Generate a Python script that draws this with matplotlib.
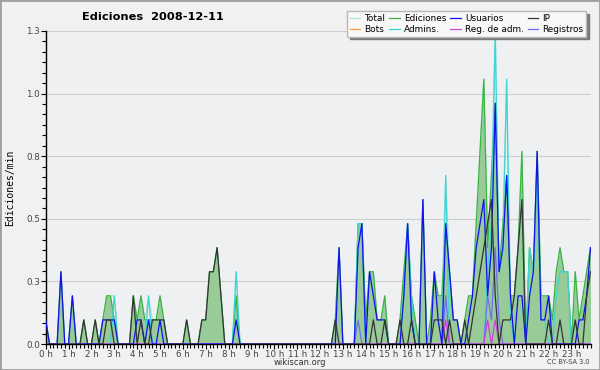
#!/usr/bin/env python3
"""Edits per minute on 2008-12-11 (wikiscan style chart)."""

import numpy as np
import matplotlib
matplotlib.use("Agg")
import matplotlib.pyplot as plt
from matplotlib.patches import Rectangle
from matplotlib.ticker import FixedLocator, MultipleLocator

# one value per 10-minute slot, in tenths of an edit per minute
EDICIONES = [
    1, 0, 0, 0, 3, 0, 0, 2, 0, 0, 1, 0, 0, 1, 0, 1, 2, 2, 1, 0, 0, 0, 0, 2,
    1, 2, 1, 1, 1, 1, 2, 1, 0, 0, 0, 0, 0, 1, 0, 0, 0, 1, 1, 3, 3, 4, 2, 0,
    0, 0, 2, 0, 0, 0, 0, 0, 0, 0, 0, 0, 0, 0, 0, 0, 0, 0, 0, 0, 0, 0, 0, 0,
    0, 0, 0, 0, 1, 4, 0, 0, 0, 0, 5, 5, 1, 3, 3, 1, 1, 2, 0, 0, 0, 1, 3, 5,
    2, 1, 0, 6, 0, 1, 3, 2, 2, 5, 3, 1, 1, 0, 1, 2, 2, 5, 8, 11, 4, 7, 10, 3,
    5, 7, 2, 2, 4, 8, 0, 4, 3, 8, 2, 2, 2, 1, 3, 4, 3, 3, 0, 3, 1, 2, 3, 4,
]
TOTAL = [
    1, 0, 0, 0, 3, 0, 0, 2, 0, 0, 1, 0, 0, 1, 0, 1, 2, 2, 2, 0, 0, 0, 0, 2,
    1, 2, 1, 2, 1, 1, 2, 1, 0, 0, 0, 0, 0, 1, 0, 0, 0, 1, 1, 3, 3, 4, 2, 0,
    0, 0, 3, 0, 0, 0, 0, 0, 0, 0, 0, 0, 0, 0, 0, 0, 0, 0, 0, 0, 0, 0, 0, 0,
    0, 0, 0, 0, 1, 4, 0, 0, 0, 0, 5, 5, 1, 3, 3, 1, 1, 2, 0, 0, 0, 1, 3, 5,
    2, 1, 0, 6, 0, 1, 3, 2, 2, 7, 3, 1, 1, 0, 1, 2, 2, 5, 8, 11, 4, 7, 13, 3,
    5, 11, 2, 2, 4, 8, 0, 4, 3, 8, 2, 2, 2, 1, 3, 4, 3, 3, 0, 3, 1, 2, 3, 4,
]
USUARIOS = [
    1, 0, 0, 0, 3, 0, 0, 2, 0, 0, 0, 0, 0, 0, 0, 1, 1, 1, 1, 0, 0, 0, 0, 0,
    1, 1, 0, 1, 0, 0, 1, 0, 0, 0, 0, 0, 0, 0, 0, 0, 0, 0, 0, 0, 0, 0, 0, 0,
    0, 0, 1, 0, 0, 0, 0, 0, 0, 0, 0, 0, 0, 0, 0, 0, 0, 0, 0, 0, 0, 0, 0, 0,
    0, 0, 0, 0, 0, 4, 0, 0, 0, 0, 4, 5, 0, 3, 2, 1, 1, 1, 0, 0, 0, 0, 2, 5,
    1, 0, 0, 6, 0, 0, 3, 1, 0, 5, 3, 1, 1, 0, 0, 1, 2, 4, 5, 6, 2, 4, 10, 3,
    4, 7, 2, 0, 2, 2, 0, 2, 3, 8, 1, 1, 2, 0, 0, 0, 0, 0, 0, 0, 1, 1, 2, 4,
]
IP = [
    0, 0, 0, 0, 0, 0, 0, 0, 0, 0, 1, 0, 0, 1, 0, 0, 1, 1, 0, 0, 0, 0, 0, 2,
    0, 1, 0, 0, 1, 1, 1, 1, 0, 0, 0, 0, 0, 1, 0, 0, 0, 1, 1, 3, 3, 4, 2, 0,
    0, 0, 0, 0, 0, 0, 0, 0, 0, 0, 0, 0, 0, 0, 0, 0, 0, 0, 0, 0, 0, 0, 0, 0,
    0, 0, 0, 0, 1, 0, 0, 0, 0, 0, 0, 0, 0, 0, 1, 0, 0, 1, 0, 0, 0, 1, 0, 0,
    1, 0, 0, 0, 0, 0, 1, 1, 1, 0, 1, 0, 0, 0, 1, 0, 1, 2, 3, 4, 5, 6, 2, 0,
    1, 1, 1, 2, 4, 6, 0, 0, 0, 0, 0, 0, 1, 0, 0, 1, 0, 0, 0, 1, 0, 0, 2, 3,
]
ADMINS = [
    0, 0, 0, 0, 0, 0, 0, 0, 0, 0, 0, 0, 0, 0, 0, 0, 0, 0, 2, 0, 0, 0, 0, 0,
    0, 0, 0, 2, 0, 0, 0, 0, 0, 0, 0, 0, 0, 0, 0, 0, 0, 0, 0, 0, 0, 0, 0, 0,
    0, 0, 3, 0, 0, 0, 0, 0, 0, 0, 0, 0, 0, 0, 0, 0, 0, 0, 0, 0, 0, 0, 0, 0,
    0, 0, 0, 0, 0, 0, 0, 0, 0, 0, 5, 5, 0, 0, 0, 0, 0, 0, 0, 0, 0, 0, 2, 5,
    2, 0, 0, 0, 0, 0, 0, 0, 0, 7, 0, 0, 0, 0, 0, 0, 0, 0, 0, 0, 3, 5, 13, 3,
    4, 11, 1, 0, 0, 0, 0, 4, 3, 7, 1, 1, 0, 0, 2, 3, 3, 3, 0, 0, 0, 0, 0, 0,
]
REGISTROS = [0] * 82 + [1] + [0] * 22 + [2] + [0] * 10 + [2, 1, 4, 1] + [0] * 24
REG_ADM = [0] * 105 + [1] + [0] * 10 + [1, 0, 1] + [0] * 25
BOTS = [0] * 144

HOURS = [f"{h} h" for h in range(24)]
Y_TICKS = [0.0, 0.26, 0.52, 0.78, 1.04, 1.3]
Y_LABELS = ["0.0", "0.3", "0.5", "0.8", "1.0", "1.3"]

W, H = 600, 370


def fx(px):
    return px / W


def fy(py):
    return 1 - py / H


def main():
    slots = np.arange(len(EDICIONES))
    tenth = lambda s: np.array(s) / 10.0

    fig = plt.figure(figsize=(6, 3.7), dpi=100, facecolor="#f1f1f1")
    ax = fig.add_axes([fx(45.7), fy(344), fx(590.5) - fx(45.7), fy(31) - fy(344)])
    ax.set_facecolor("#eef0f2")

    ax.fill_between(slots, tenth(EDICIONES), color="#98cb98", lw=0, zorder=2)
    series = [
        ("Total", TOTAL, "#a8e2e2", 2.1),
        ("Ediciones", EDICIONES, "#3cb43c", 2.2),
        ("Bots", BOTS, "#ffa030", 2.3),
        ("Admins.", ADMINS, "#3fd4d4", 2.4),
        ("Registros", REGISTROS, "#7070f0", 2.5),
        ("Reg. de adm.", REG_ADM, "#d040e0", 2.6),
        ("Usuarios", USUARIOS, "#1010f0", 2.7),
        ("IP", IP, "#333333", 2.8),
    ]
    lines = {}
    for name, vals, color, z in series:
        (ln,) = ax.plot(slots, tenth(vals), color=color, lw=0.9, zorder=z)
        lines[name] = ln

    ax.set_xlim(0, 143)
    ax.set_ylim(0, 1.3)
    ax.xaxis.set_major_locator(FixedLocator(range(0, 144, 6)))
    ax.set_xticklabels(HOURS)
    ax.xaxis.set_minor_locator(MultipleLocator(1))
    ax.yaxis.set_major_locator(FixedLocator(Y_TICKS))
    ax.set_yticklabels(Y_LABELS)
    ax.yaxis.set_minor_locator(MultipleLocator(0.26 / 6))
    ax.tick_params(which="both", direction="out", color="black", width=0.8)
    ax.tick_params(which="major", length=3.5, labelsize=6.3, labelcolor="#444444", pad=0.5)
    ax.tick_params(which="minor", length=2.8)

    ax.yaxis.grid(True, color="#cdcdcd", lw=0.8)
    ax.set_axisbelow(True)
    for side in ("top", "right"):
        ax.spines[side].set_visible(False)
    for side in ("left", "bottom"):
        ax.spines[side].set_linewidth(1.0)

    order = ["Total", "Bots", "Ediciones", "Admins.", "Usuarios",
             "Reg. de adm.", "IP", "Registros"]
    leg = ax.legend([lines[n] for n in order], order, ncol=4,
                    loc="upper left", bbox_to_anchor=(fx(347), fy(11.5)),
                    bbox_transform=fig.transFigure, fontsize=6.4,
                    frameon=True, fancybox=False, framealpha=1,
                    facecolor="#f8f8f8", edgecolor="#b8b8b8",
                    shadow={"color": "#7a7a7a", "alpha": 1},
                    borderpad=0.3, labelspacing=0.2, handlelength=1.2,
                    handletextpad=0.45, columnspacing=0.45, borderaxespad=0)
    for h in leg.get_lines():
        h.set_linewidth(0.9)
    leg.set_zorder(5)

    fig.text(fx(153), fy(17), "Ediciones  2008-12-11", ha="center", va="center",
             fontsize=8.2, fontweight="bold")
    fig.text(fx(10), fy(188), "Ediciones/min", rotation=90, ha="center", va="center",
             family="DejaVu Sans Mono", fontsize=7)
    fig.text(fx(300), fy(362.5), "wikiscan.org", ha="center", va="center",
             fontsize=6.0, color="#333333")
    fig.text(fx(590), fy(362.5), "CC BY-SA 3.0", ha="right", va="center",
             fontsize=4.8, color="#444444")
    fig.patches.append(Rectangle((0, 0), 1, 1, transform=fig.transFigure,
                                 fill=False, edgecolor="#a0a0a0", lw=2))

    fig.savefig("out.png", dpi=100, facecolor=fig.get_facecolor())
    plt.close(fig)


if __name__ == "__main__":
    main()
